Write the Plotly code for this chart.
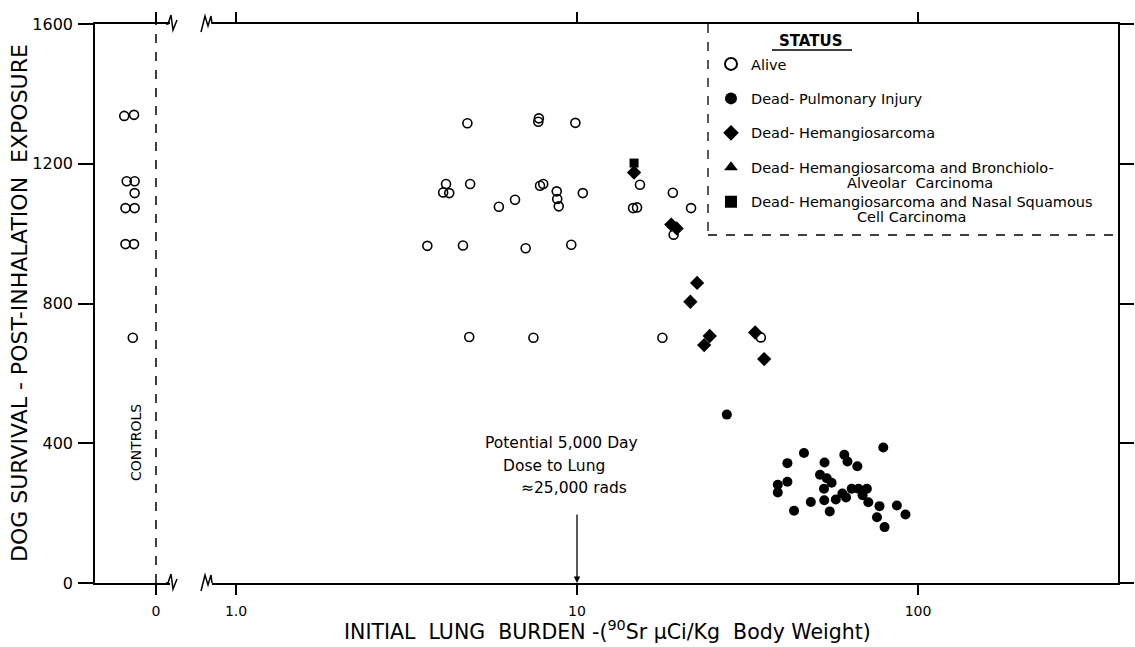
import plotly.graph_objects as go

# ---------------- data ----------------
control_pos = [-0.52, -0.36, -0.48, -0.35, -0.35, -0.50, -0.35, -0.50, -0.36, -0.38]
control_days = [1337, 1340, 1150, 1150, 1116, 1073, 1073, 970, 970, 702]

alive_burden = [4.77, 7.73, 7.70, 9.89, 4.13, 4.05, 4.22, 4.86, 5.90, 6.58, 7.79, 7.96,
                8.72, 8.75, 8.84, 10.4, 3.64, 4.63, 7.07, 9.62, 4.83, 7.45, 17.8,
                15.3, 14.6, 15.0, 19.1, 21.6, 19.2, 34.6]
alive_days = [1316, 1330, 1320, 1317, 1142, 1118, 1116, 1142, 1077, 1097, 1137, 1142,
              1121, 1099, 1078, 1116, 965, 966, 958, 968, 704, 702, 702,
              1140, 1073, 1075, 1117, 1073, 997, 703]

pulm_burden = [27.5, 46.3, 79.1, 60.8, 62.1, 53.2, 66.4, 51.6, 54.0, 55.8, 53.0, 60.0,
               63.9, 66.9, 70.8, 61.5, 68.8, 57.4, 53.1, 48.5, 71.5, 77.1, 86.7, 91.9,
               55.1, 75.8, 79.8, 41.4, 38.8, 38.8, 41.4, 43.3]
pulm_days = [482, 372, 388, 367, 348, 345, 334, 310, 300, 287, 270, 256,
             270, 270, 270, 245, 251, 239, 237, 232, 231, 220, 222, 196,
             205, 188, 160, 343, 281, 259, 290, 207]

hem_burden = [14.7, 18.9, 19.6, 22.5, 21.5, 24.5, 23.6, 33.3, 35.4]
hem_days = [1175, 1026, 1015, 859, 805, 707, 681, 717, 641]

hem_bronch_burden = [None]
hem_bronch_days = [None]

hem_nasal_burden = [14.7]
hem_nasal_days = [1202]

y_ticks = [0, 400, 800, 1200, 1600]
y_ticktext = ["0", "400", "800", "1200", "1600"]
x_ticks = [1, 10, 100]
x_ticktext = ["1.0", "10", "100"]

legend_names = [
    "Alive",
    "Dead- Pulmonary Injury",
    "Dead- Hemangiosarcoma",
    "Dead- Hemangiosarcoma and Bronchiolo-",
    "Dead- Hemangiosarcoma and Nasal Squamous",
]
legend_cont = ["Alveolar  Carcinoma", "Cell Carcinoma"]

# ---------------- geometry (screen pixels) ----------------
W, H = 1135, 647
PL, PR, PT, PB = 95, 1118, 24, 583          # plot area in screen pixels
L, R, T, B = PL, W - PR, PT, H - PB
PW, PH = PR - PL, PB - PT


def px(x):
    return (x - PL) / PW


def py(y):
    return (PB - y) / PH


FONT = "DejaVu Sans"
BLACK = "black"

fig = go.Figure()

fig.add_trace(go.Scatter(x=control_pos, y=control_days, mode="markers", xaxis="x", yaxis="y",
                         marker=dict(symbol="circle-open", size=9, color=BLACK, line=dict(width=1.6)),
                         showlegend=False, legendgroup="a", hoverinfo="skip"))

fig.add_trace(go.Scatter(x=alive_burden, y=alive_days, mode="markers", xaxis="x2", yaxis="y2",
                         name=legend_names[0], legendgroup="a",
                         marker=dict(symbol="circle-open", size=9, color=BLACK, line=dict(width=1.6))))
fig.add_trace(go.Scatter(x=pulm_burden, y=pulm_days, mode="markers", xaxis="x2", yaxis="y2",
                         name=legend_names[1], legendgroup="b",
                         marker=dict(symbol="circle", size=10, color=BLACK)))
fig.add_trace(go.Scatter(x=hem_burden, y=hem_days, mode="markers", xaxis="x2", yaxis="y2",
                         name=legend_names[2], legendgroup="c",
                         marker=dict(symbol="diamond", size=11, color=BLACK)))
fig.add_trace(go.Scatter(x=hem_bronch_burden, y=hem_bronch_days, mode="markers", xaxis="x2", yaxis="y2",
                         name=legend_names[3], legendgroup="d",
                         marker=dict(symbol="triangle-up", size=10, color=BLACK)))
fig.add_trace(go.Scatter(x=hem_nasal_burden, y=hem_nasal_days, mode="markers", xaxis="x2", yaxis="y2",
                         name=legend_names[4], legendgroup="e",
                         marker=dict(symbol="square", size=9, color=BLACK)))

axis_common = dict(showgrid=False, zeroline=False, showline=True, linecolor=BLACK, linewidth=1.5,
                   ticks="outside", tickcolor=BLACK, tickwidth=1.5)

fig.update_layout(
    width=W, height=H,
    margin=dict(l=L, r=R, t=T, b=B, autoexpand=False),
    paper_bgcolor="white", plot_bgcolor="white",
    font=dict(family=FONT, color=BLACK),
    xaxis=dict(domain=[0, px(170)], range=[-1, 0.23], tickvals=[0], ticktext=["0"],
               ticklen=10, ticklabelstandoff=4, mirror="ticks", anchor="y",
               tickfont=dict(family=FONT, size=14, color=BLACK), **axis_common),
    xaxis2=dict(domain=[px(212), 1], type="log", range=[-0.0704, 2.5865],
                tickvals=x_ticks, ticktext=x_ticktext, ticklen=10, ticklabelstandoff=4,
                mirror="ticks", anchor="y2",
                tickfont=dict(family=FONT, size=14, color=BLACK), **axis_common),
    yaxis=dict(range=[0, 1600], tickvals=y_ticks, ticktext=y_ticktext, ticklen=15,
               ticklabelstandoff=2, anchor="x",
               tickfont=dict(family=FONT, size=16, color=BLACK), **axis_common),
    yaxis2=dict(range=[0, 1600], tickvals=y_ticks, overlaying="y", side="right", anchor="x2",
                ticklen=14, showticklabels=False, **axis_common),
    legend=dict(x=px(711), y=py(48), xanchor="left", yanchor="top", valign="middle",
                bgcolor="rgba(0,0,0,0)", borderwidth=0, tracegroupgap=12.6,
                font=dict(family=FONT, size=14.5, color=BLACK), itemsizing="constant"),
)

# dashed line separating controls
fig.add_shape(type="line", xref="x", yref="y", x0=0, x1=0, y0=0, y1=1600,
              line=dict(color=BLACK, width=1.5, dash="dash"))

# top border continues past the right frame
fig.add_shape(type="line", xref="paper", yref="paper", x0=1, x1=px(1134), y0=1, y1=1,
              line=dict(color=BLACK, width=1.5))

# legend dashed border
fig.add_shape(type="line", xref="paper", yref="paper", x0=px(708), x1=px(708), y0=py(24), y1=py(235),
              line=dict(color=BLACK, width=1.3, dash="dash"))
fig.add_shape(type="line", xref="paper", yref="paper", x0=px(708), x1=px(1118), y0=py(235), y1=py(235),
              line=dict(color=BLACK, width=1.3, dash="dash"))
# STATUS underline
fig.add_shape(type="line", xref="paper", yref="paper", x0=px(772), x1=px(852), y0=py(50), y1=py(50),
              line=dict(color=BLACK, width=1.4))


# axis break symbols
def zig(points):
    return "M " + " L ".join(f"{px(a)},{py(b)}" for a, b in points)


for yb in (24, 583):
    fig.add_shape(type="path", xref="paper", yref="paper",
                  path=zig([(166, yb), (168, yb), (171, yb - 9), (173, yb + 6), (177, yb - 4)]),
                  line=dict(color=BLACK, width=1.5))
    fig.add_shape(type="path", xref="paper", yref="paper",
                  path=zig([(201, yb + 8), (205, yb - 8), (208, yb + 2), (211, yb - 8), (212, yb)]),
                  line=dict(color=BLACK, width=1.5))


def txt(text, x, y, size, angle=0, xanchor="center", bold=False):
    return dict(text=text, xref="paper", yref="paper", x=px(x), y=py(y), xanchor=xanchor,
                yanchor="middle", textangle=angle, showarrow=False,
                font=dict(family=FONT, size=size, color=BLACK, weight="bold" if bold else "normal"))


ann = [
    txt("STATUS", 811, 41, 15, bold=True),
    txt(legend_cont[0], 845, 183, 14.5, xanchor="left"),
    txt(legend_cont[1], 855, 217, 14.5, xanchor="left"),
    txt("CONTROLS", 136, 443, 14, angle=-90),
    txt("DOG SURVIVAL - POST-INHALATION  EXPOSURE", 19, 303, 22, angle=-90),
    txt("INITIAL  LUNG  BURDEN -(<sup>90</sup>Sr \u00b5Ci/Kg  Body Weight)", 607, 631, 20.5),
    txt("Potential 5,000 Day", 561, 443, 15.5),
    txt("Dose to Lung", 554, 466, 15.5),
    txt("\u224825,000 rads", 574, 488, 15.5),
    dict(text="", xref="x2", yref="y2", x=1, y=0, ax=0, ay=-70, showarrow=True,
         arrowhead=2, arrowsize=1, arrowwidth=1.3, arrowcolor=BLACK),
]
fig.update_layout(annotations=ann)

fig.write_html("out.html", config={"displayModeBar": False},
               post_script="document.body.style.margin='0';document.body.style.overflow='hidden';")
